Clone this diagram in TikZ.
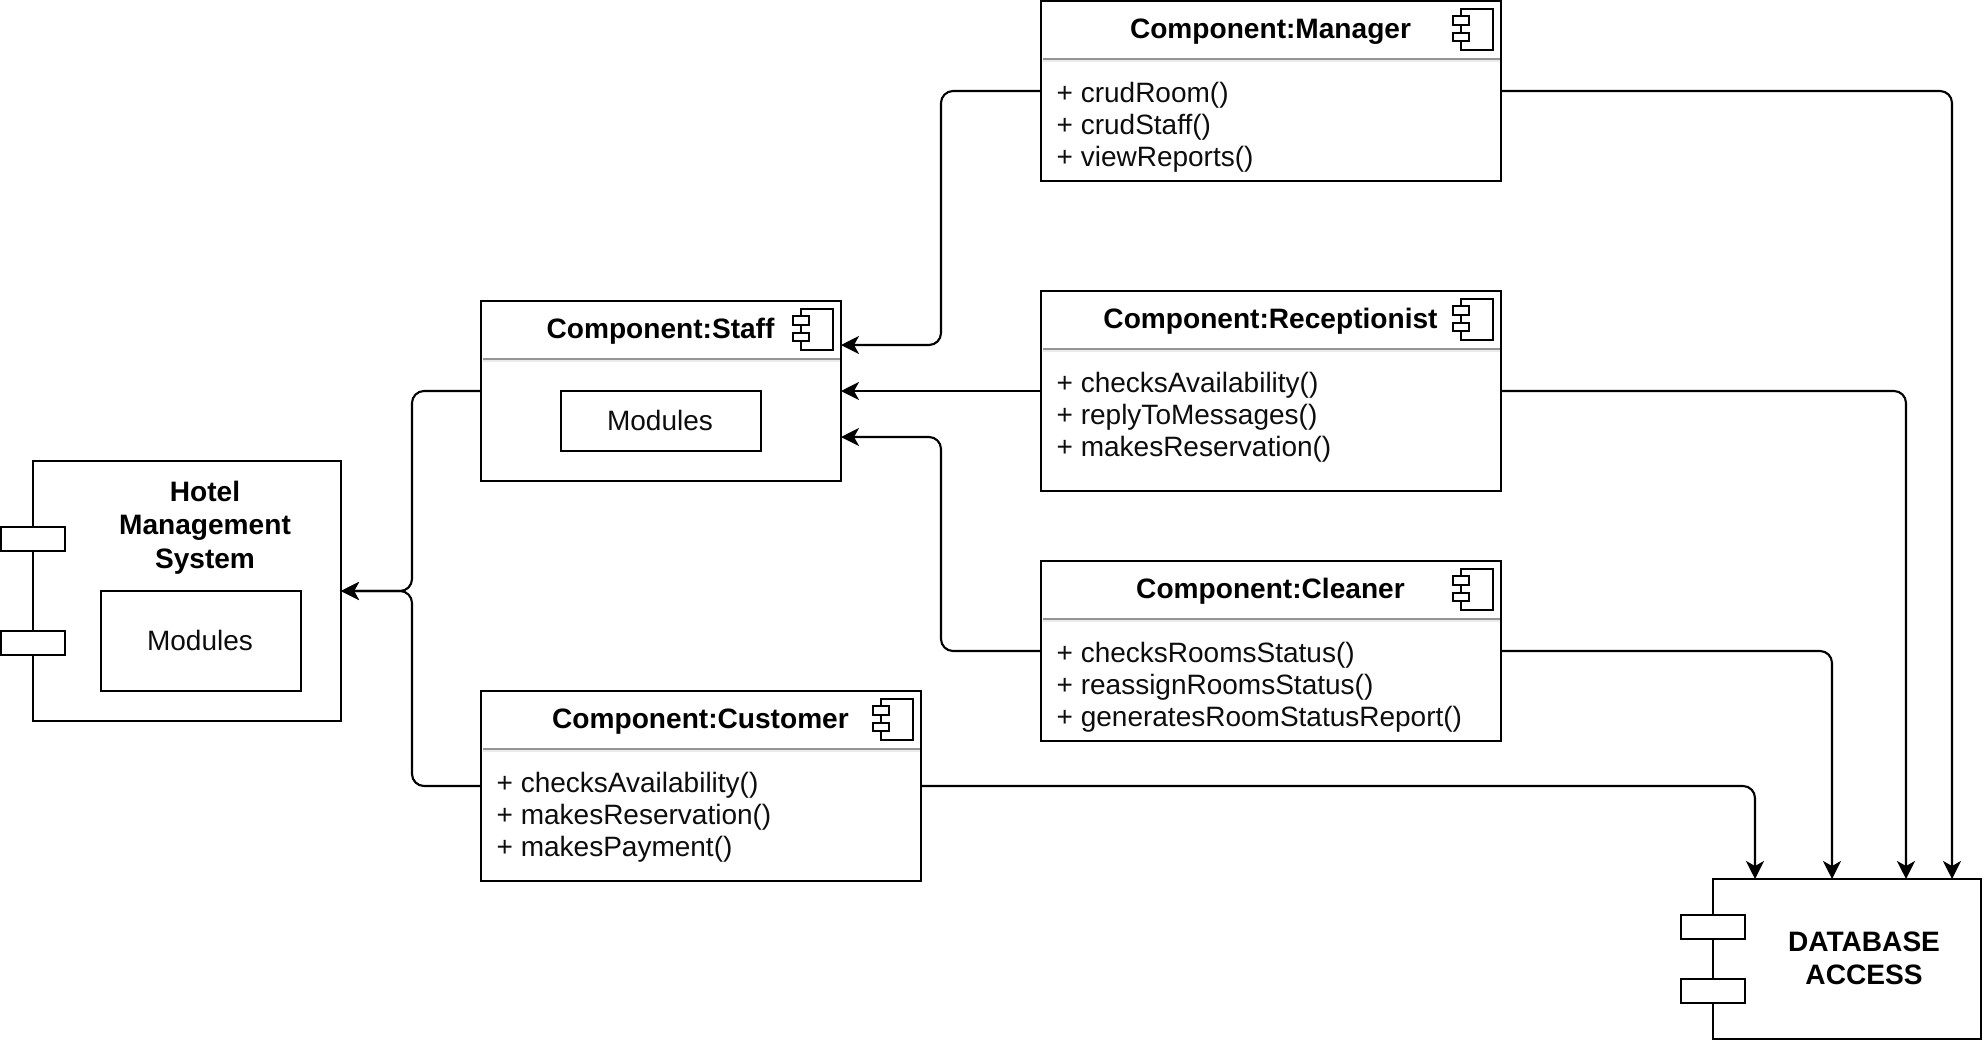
\documentclass[tikz,border=0pt]{standalone}
\usepackage{fontspec}
\setmainfont{Liberation Sans}
\usetikzlibrary{arrows.meta,positioning,calc}
\tikzset{
  box/.style={draw=black,line width=2.5pt,fill=white,rectangle,inner sep=0pt,outer sep=0pt,anchor=north west},
  iconline/.style={draw=black,line width=2pt,fill=white,rectangle,inner sep=0pt,outer sep=0pt},
  title/.style={font=\fontsize{28.1}{32}\selectfont\bfseries,inner sep=0pt,anchor=base,text=black},
  bold/.style={font=\fontsize{28.1}{33.6}\selectfont\bfseries,inner sep=0pt,align=center,text=black},
  body/.style={font=\fontsize{28}{32}\selectfont,inner sep=0pt,align=left,anchor=west,text=black!95},
  plain/.style={font=\fontsize{28}{32}\selectfont,inner sep=0pt,anchor=base,text=black!95},
  link/.style={draw=black,line width=2.1pt,rounded corners=12pt,-{Stealth[length=18pt,width=18pt,inset=5pt]}},
}
% name, left, top, width, height, separator offset, title, body
\newcommand{\compbox}[8]{%
  \node[box,minimum width=#4pt,minimum height=#5pt] (#1) at (#2,#3) {};
  \node[title] (#1T) at ($(#1.north)+(-0.5pt,-37pt)$) {#7};
  \draw[draw=black!8,line width=1.5pt] ($(#1.north west)+(1.5pt,-#6pt-2pt)$) -- ($(#1.north east)+(-1.5pt,-#6pt-2pt)$);
  \draw[draw=black!42,line width=1.8pt] ($(#1.north west)+(1.5pt,-#6pt)$) -- ($(#1.north east)+(-1.5pt,-#6pt)$);
  \node[iconline,minimum width=32pt,minimum height=41pt,anchor=north east] (#1I) at ($(#1.north east)+(-8pt,-8pt)$) {};
  \node[iconline,minimum width=16pt,minimum height=8.5pt,anchor=center] (#1Ia) at ($(#1I.north west)+(0,-11.5pt)$) {};
  \node[iconline,minimum width=16pt,minimum height=8.5pt,anchor=center] (#1Ib) at ($(#1I.north west)+(0,-28pt)$) {};
  \if\relax\detokenize{#8}\relax\else
  \node[body] (#1B) at ($(#1.north west)+(15.5pt,-126.3pt)$) {#8};
  \fi
}
\begin{document}
\begin{tikzpicture}[x=1pt,y=-1pt]
\useasboundingbox (0,0) rectangle (1984,1042);
\fill[white] (0,0) rectangle (1984,1042);

\compbox{mgr}{1041}{1}{460}{180}{58}{Component:Manager}{+ crudRoom()\\+ crudStaff()\\+ viewReports()}
\compbox{rec}{1041}{291}{460}{200}{58}{Component:Receptionist}{+ checksAvailability()\\+ replyToMessages()\\+ makesReservation()}
\compbox{cln}{1041}{561}{460}{180}{58}{Component:Cleaner}{+ checksRoomsStatus()\\+ reassignRoomsStatus()\\+ generatesRoomStatusReport()}
\compbox{cus}{481}{691}{440}{190}{58}{Component:Customer}{+ checksAvailability()\\+ makesReservation()\\+ makesPayment()}
\compbox{stf}{481}{301}{360}{180}{58}{Component:Staff}{}
\node[box,minimum width=200pt,minimum height=60pt] (stfM) at (561,391) {};
\node[plain] (stfMt) at (660,430) {Modules};

% Hotel Management System
\node[box,minimum width=308pt,minimum height=260pt] (hms) at (33,461) {};
\node[box,minimum width=64pt,minimum height=24pt] (hmsP1) at (1,527) {};
\node[box,minimum width=64pt,minimum height=24pt] (hmsP2) at (1,631) {};
\node[bold] (hmsT) at (205,527.5) {Hotel\\Management\\System};
\node[box,minimum width=200pt,minimum height=100pt] (hmsM) at (101,591) {};
\node[plain] (hmsMt) at (200,650) {Modules};

% Database access
\node[box,minimum width=268pt,minimum height=160pt] (db) at (1713,879) {};
\node[box,minimum width=64pt,minimum height=24pt] (dbP1) at (1681,915) {};
\node[box,minimum width=64pt,minimum height=24pt] (dbP2) at (1681,979) {};
\node[bold] (dbT) at (1864,958.5) {DATABASE\\ACCESS};

% free ends and routes
\coordinate (stfA) at ([yshift=46pt]stf.east);
\coordinate (stfC) at ([yshift=-46pt]stf.east);
\coordinate (busR) at (941,0);
\coordinate (busL) at (412,0);
\coordinate (db1) at (1755,879);
\coordinate (db2) at (1832,879);
\coordinate (db3) at (1906,879);
\coordinate (db4) at (1952,879);

\draw[link] (mgr.west) -- (busR |- mgr.west) |- (stfA);
\draw[link] (rec.west) -- (rec.west -| stf.east);
\draw[link] (cln.west) -| (busR |- stfC) -- (stfC);
\draw[link] (stf.west) -| (busL |- hms.east) -- (hms.east);
\draw[link] (cus.west) -| (busL |- hms.east) -- (hms.east);
\draw[link] (mgr.east) -| (db4);
\draw[link] (rec.east) -| (db3);
\draw[link] (cln.east) -| (db2);
\draw[link] (cus.east) -| (db1);
\end{tikzpicture}
\end{document}
